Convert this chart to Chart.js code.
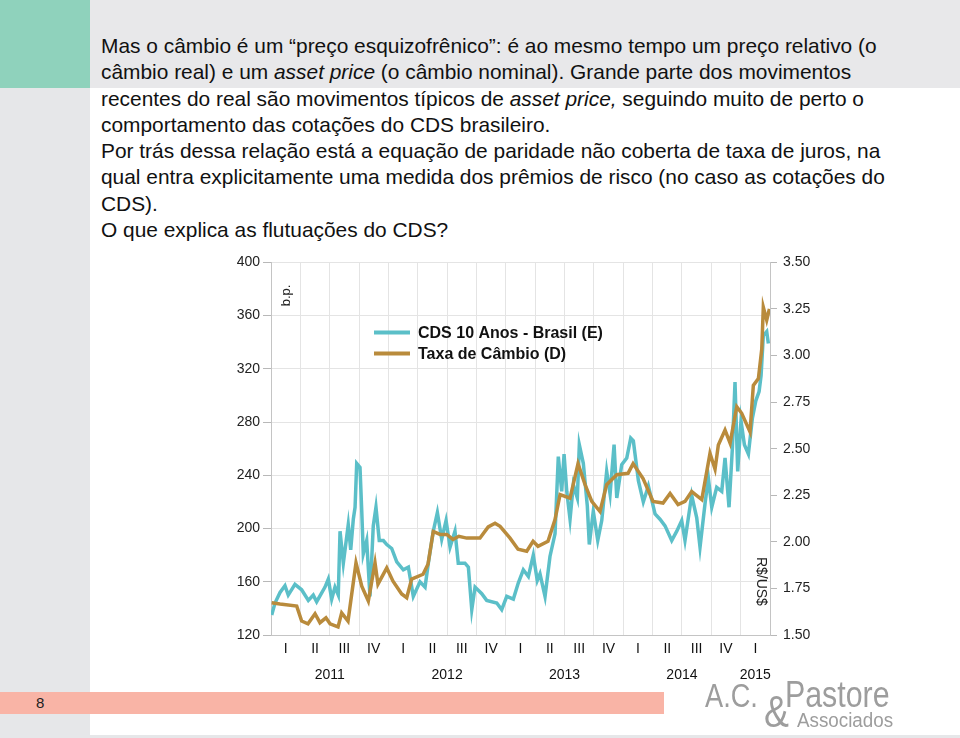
<!DOCTYPE html>
<html lang="pt">
<head>
<meta charset="utf-8">
<title>CDS x Câmbio</title>
<script src="https://cdn.jsdelivr.net/npm/chart.js@4.4.0/dist/chart.umd.min.js"></script>
<style>
  html, body { margin: 0; padding: 0; }
  body {
    width: 960px; height: 738px; position: relative; overflow: hidden;
    background: #fff; font-family: "Liberation Sans", Arial, sans-serif;
  }
  .side { position: absolute; left: 0; top: 0; width: 90px; height: 738px; background: #e6e7e9; }
  .band { position: absolute; left: 90px; top: 0; width: 870px; height: 88px; background: #e8e8ea; }
  .teal { position: absolute; left: 0; top: 0; width: 90px; height: 88px; background: #8fd2bc; }
  .foot { position: absolute; left: 90px; top: 735px; width: 870px; height: 3px; background: #e6e7e9; }
  .pink { position: absolute; left: 0; top: 692px; width: 664px; height: 22px; background: #f9b4a6; }
  .pgnum { position: absolute; left: 36px; top: 694px; font-size: 15px; color: #222; }
  .texto {
    position: absolute; left: 101px; top: 33px; font-size: 20.9px; line-height: 26.3px;
    color: #111; white-space: nowrap;
  }
  #wrap { position: absolute; left: 200px; top: 248px; width: 640px; height: 440px; }
  .logo {
    position: absolute; color: #9d9d9d; line-height: 1; transform-origin: left top;
    font-family: "Liberation Sans Narrow", "Liberation Sans", Arial, sans-serif;
  }
</style>
</head>
<body>
<div class="side"></div>
<div class="band"></div>
<div class="teal"></div>
<div class="foot"></div>
<div class="pink"></div>
<div class="pgnum">8</div>

<div class="texto">
Mas o câmbio é um “preço esquizofrênico”: é ao mesmo tempo um preço relativo (o<br>
câmbio real) e um <em>asset price</em> (o câmbio nominal). Grande parte dos movimentos<br>
recentes do real são movimentos típicos de <em>asset price,</em> seguindo muito de perto o<br>
comportamento das cotações do CDS brasileiro.<br>
Por trás dessa relação está a equação de paridade não coberta de taxa de juros, na<br>
qual entra explicitamente uma medida dos prêmios de risco (no caso as cotações do<br>
CDS).<br>
O que explica as flutuações do CDS?
</div>

<div id="wrap"><canvas id="chart" width="640" height="440"></canvas></div>

<div class="logo" style="left:705px; top:678px; font-size:34px; transform:scaleX(0.8);">A.C.</div>
<div class="logo" style="left:764px; top:690px; font-size:44px; transform:scaleX(0.85);">&amp;</div>
<div class="logo" style="left:785px; top:676px; font-size:37px; transform:scaleX(0.82);">Pastore</div>
<div class="logo" style="left:797px; top:710px; font-size:20px; transform:scaleX(0.94);">Associados</div>

<script>
// CDS 10 anos Brasil (b.p.), eixo esquerdo
const cdsDates = [
  2011.006, 2011.034, 2011.077, 2011.119, 2011.147, 2011.204, 2011.261, 2011.318, 2011.360, 2011.389,
  2011.460, 2011.488, 2011.517, 2011.545, 2011.573, 2011.588, 2011.616, 2011.658, 2011.679, 2011.701,
  2011.716, 2011.730, 2011.758, 2011.773, 2011.786, 2011.815, 2011.843, 2011.871, 2011.894, 2011.922,
  2011.957, 2011.986, 2012.028, 2012.071, 2012.127, 2012.170, 2012.212, 2012.269, 2012.312, 2012.340,
  2012.382, 2012.417, 2012.454, 2012.491, 2012.525, 2012.567, 2012.595, 2012.652, 2012.681, 2012.710,
  2012.738, 2012.795, 2012.837, 2012.923, 2012.965, 2013.008, 2013.064, 2013.106, 2013.149, 2013.192,
  2013.234, 2013.268, 2013.291, 2013.334, 2013.376, 2013.419, 2013.447, 2013.476, 2013.496, 2013.519,
  2013.547, 2013.575, 2013.609, 2013.626, 2013.660, 2013.694, 2013.711, 2013.745, 2013.783, 2013.817,
  2013.859, 2013.888, 2013.922, 2013.945, 2013.987, 2014.030, 2014.064, 2014.086, 2014.129, 2014.171,
  2014.214, 2014.271, 2014.313, 2014.356, 2014.413, 2014.456, 2014.498, 2014.526, 2014.583, 2014.626,
  2014.654, 2014.697, 2014.725, 2014.754, 2014.796, 2014.839, 2014.867, 2014.901, 2014.930, 2014.952,
  2014.975, 2015.003, 2015.032, 2015.066, 2015.100, 2015.129, 2015.157, 2015.174, 2015.193, 2015.222,
  2015.236
];
const cdsValues = [
  135, 144, 152, 157, 150, 158, 154, 146, 150, 145,
  156, 162, 147, 156, 150, 198, 174, 203, 184, 207,
  216, 249, 246, 213, 181, 191, 149, 202, 216, 191,
  191, 188, 185, 175, 169, 171, 149, 160, 156, 174,
  198, 212, 192, 206, 186, 198, 174, 174, 171, 139,
  156, 151, 146, 144, 139, 149, 147, 159, 169, 164,
  180, 161, 166, 149, 179, 196, 254, 228, 256, 228,
  207, 233, 223, 263, 249, 217, 188, 213, 191, 206,
  243, 226, 263, 223, 248, 253, 268, 266, 236, 220,
  232, 211, 207, 202, 191, 198, 206, 191, 225, 208,
  186, 219, 238, 216, 231, 228, 253, 216, 261, 310,
  243, 281, 263, 256, 283, 296, 303, 315, 345, 348,
  339
];

// Taxa de câmbio R$/US$, eixo direito
const fxDates = [
  2011.006, 2011.077, 2011.219, 2011.261, 2011.315, 2011.375, 2011.417, 2011.468, 2011.503, 2011.571,
  2011.602, 2011.656, 2011.724, 2011.773, 2011.792, 2011.829, 2011.886, 2011.911, 2011.986, 2012.039,
  2012.113, 2012.156, 2012.198, 2012.295, 2012.337, 2012.382, 2012.440, 2012.497, 2012.550, 2012.600,
  2012.667, 2012.720, 2012.780, 2012.850, 2012.908, 2012.951, 2013.036, 2013.104, 2013.178, 2013.232,
  2013.274, 2013.359, 2013.419, 2013.462, 2013.547, 2013.615, 2013.675, 2013.732, 2013.802, 2013.859,
  2013.945, 2014.041, 2014.084, 2014.169, 2014.254, 2014.339, 2014.399, 2014.467, 2014.526, 2014.583,
  2014.669, 2014.739, 2014.782, 2014.810, 2014.867, 2014.910, 2014.967, 2015.009, 2015.080, 2015.108,
  2015.151, 2015.180, 2015.193, 2015.222, 2015.245
];
const fxValues = [
  1.673, 1.666, 1.655, 1.575, 1.560, 1.614, 1.566, 1.592, 1.560, 1.543,
  1.619, 1.575, 1.887, 1.762, 1.735, 1.682, 1.887, 1.773, 1.860, 1.789,
  1.720, 1.700, 1.800, 1.826, 1.880, 2.056, 2.040, 2.040, 2.013, 2.030,
  2.020, 2.020, 2.020, 2.080, 2.100, 2.083, 2.020, 1.960, 1.950, 2.003,
  1.976, 2.003, 2.120, 2.254, 2.234, 2.420, 2.307, 2.217, 2.163, 2.307,
  2.360, 2.368, 2.420, 2.340, 2.217, 2.208, 2.260, 2.200, 2.217, 2.270,
  2.227, 2.475, 2.390, 2.520, 2.600, 2.530, 2.725, 2.690, 2.590, 2.840,
  2.876, 3.036, 3.260, 3.190, 3.250
];

const quarterLabels = ["I", "II", "III", "IV"];
const startYear = 2011;
const endYear = 2015.25;

const teal = "#5bbfc8";
const gold = "#b98b3c";

const boundaries = [];
const centers = [];
for (let v = startYear; v <= endYear + 1e-9; v += 0.25) boundaries.push(+v.toFixed(2));
for (let i = 0; i < boundaries.length - 1; i++) centers.push((boundaries[i] + boundaries[i + 1]) / 2);
const yearCenters = [];
for (let y = startYear; y < endYear; y++) {
  yearCenters.push((Math.max(y, startYear) + Math.min(y + 1, endYear)) / 2);
}

const toPoints = (xs, ys) => ys.map((v, i) => ({ x: xs[i], y: v }));

const overlay = {
  id: "overlay",
  afterDraw(chart) {
    const { ctx, chartArea: a } = chart;
    ctx.save();
    // legenda dentro do gráfico
    const items = [
      { text: chart.data.datasets[0].label, color: teal },
      { text: chart.data.datasets[1].label, color: gold }
    ];
    ctx.font = "bold 16px 'Liberation Sans', Arial, sans-serif";
    ctx.textBaseline = "middle";
    items.forEach((it, i) => {
      const y = a.top + 70 + i * 21;
      ctx.strokeStyle = it.color;
      ctx.lineWidth = 4;
      ctx.beginPath();
      ctx.moveTo(a.left + 103, y);
      ctx.lineTo(a.left + 139, y);
      ctx.stroke();
      ctx.fillStyle = "#111";
      ctx.textAlign = "left";
      ctx.fillText(it.text, a.left + 147, y + 1);
    });
    // títulos dos eixos
    ctx.fillStyle = "#222";
    ctx.textAlign = "center";
    ctx.font = "13px 'Liberation Sans', Arial, sans-serif";
    ctx.translate(a.left + 15, a.top + 33);
    ctx.rotate(-Math.PI / 2);
    ctx.fillText("b.p.", 0, 0);
    ctx.restore();
    ctx.save();
    ctx.fillStyle = "#222";
    ctx.textAlign = "center";
    ctx.textBaseline = "middle";
    ctx.font = "14px 'Liberation Sans', Arial, sans-serif";
    ctx.translate(a.right - 9, a.top + 319);
    ctx.rotate(Math.PI / 2);
    ctx.fillText("R$/US$", 0, 0);
    ctx.restore();
  }
};

const tickFont = { family: "'Liberation Sans', Arial, sans-serif", size: 14 };

new Chart(document.getElementById("chart").getContext("2d"), {
  type: "line",
  data: {
    datasets: [
      {
        label: "CDS 10 Anos - Brasil (E)",
        data: toPoints(cdsDates, cdsValues),
        borderColor: teal,
        borderWidth: 3.5,
        pointRadius: 0,
        tension: 0,
        xAxisID: "x",
        yAxisID: "y",
        order: 2
      },
      {
        label: "Taxa de Câmbio (D)",
        data: toPoints(fxDates, fxValues),
        borderColor: gold,
        borderWidth: 3.5,
        pointRadius: 0,
        tension: 0,
        xAxisID: "x",
        yAxisID: "y1",
        order: 1
      }
    ]
  },
  options: {
    responsive: false,
    animation: false,
    layout: { padding: { top: 12, left: 0, right: 0, bottom: 0 } },
    plugins: { legend: { display: false }, tooltip: { enabled: false } },
    scales: {
      x: {
        type: "linear", position: "bottom", min: startYear, max: endYear, weight: 0,
        afterBuildTicks: (s) => { s.ticks = boundaries.map((v) => ({ value: v })); },
        ticks: { display: false },
        grid: { color: "#e4e4e4", drawTicks: false },
        border: { color: "#c4c4c4" },
        afterFit: (s) => { s.height = 1; }
      },
      xq: {
        type: "linear", position: "bottom", min: startYear, max: endYear, weight: 1,
        afterBuildTicks: (s) => { s.ticks = centers.map((v) => ({ value: v })); },
        ticks: {
          autoSkip: false, maxRotation: 0, padding: 5, color: "#111", font: tickFont,
          callback: (v) => quarterLabels[Math.floor((v - startYear) * 4 + 1e-6) % 4]
        },
        grid: { display: false, drawTicks: false },
        border: { display: false },
        afterFit: (s) => { s.height = 25; }
      },
      xy: {
        type: "linear", position: "bottom", min: startYear, max: endYear, weight: 2,
        afterBuildTicks: (s) => { s.ticks = yearCenters.map((v) => ({ value: v })); },
        ticks: {
          autoSkip: false, maxRotation: 0, padding: 6, color: "#111", font: tickFont,
          callback: (v) => String(Math.floor(v))
        },
        grid: { display: false, drawTicks: false },
        border: { display: false },
        afterFit: (s) => { s.height = 27; }
      },
      y: {
        position: "left", min: 120, max: 400,
        ticks: { stepSize: 40, color: "#222", font: tickFont, padding: 3 },
        grid: { color: "#e4e4e4", tickLength: 8, tickColor: "#b8b8b8" },
        border: { color: "#c4c4c4" },
        afterFit: (s) => { s.width = 71; }
      },
      y1: {
        position: "right", min: 1.5, max: 3.5,
        ticks: { stepSize: 0.25, color: "#222", font: tickFont, padding: 6, callback: (v) => v.toFixed(2) },
        grid: { drawOnChartArea: false, tickLength: 7, tickColor: "#b8b8b8" },
        border: { color: "#c4c4c4" },
        afterFit: (s) => { s.width = 70; }
      }
    }
  },
  plugins: [overlay]
});
</script>
</body>
</html>
